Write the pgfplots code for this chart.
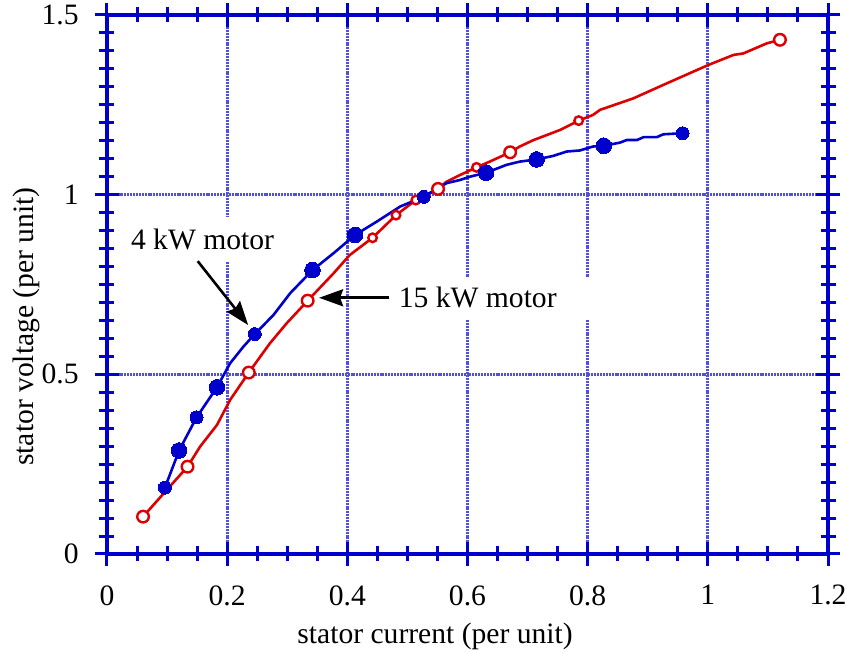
\documentclass[border=0pt]{standalone}
\usepackage{pgfplots}
\pgfplotsset{compat=1.18}
\usepackage{fontspec}
\setmainfont{Liberation Serif}
\usetikzlibrary{arrows.meta}
\definecolor{cblue}{RGB}{0,0,204}
\definecolor{cred}{RGB}{221,0,0}
\definecolor{cgrid}{RGB}{80,80,220}
\begin{document}
\fontsize{14.8}{17}\selectfont
\begin{tikzpicture}
\begin{axis}[
  at={(0,0)}, anchor=south west,
  scale only axis, width=360.5pt, height=269.5pt,
  xmin=0, xmax=1.2, ymin=0, ymax=1.5,
  xtick={0,0.2,...,1.2}, ytick={0,0.5,1,1.5},
  minor x tick num=3, minor y tick num=9,
  xtick pos=both, ytick pos=both,
  tick align=center,
  major tick length=12pt, minor tick length=7.5pt,
  axis line style={cblue, line width=1.6pt},
  every tick/.style={cblue, line width=1.5pt},
  every minor tick/.style={cblue, line width=1.5pt},
  xmajorgrids, ymajorgrids,
  every axis grid/.style={},
  every major grid/.style={cgrid, line width=1.5pt, dash pattern=on 1pt off 0.45pt},
  /pgf/number format/assume math mode=true,
  xticklabel style={inner sep=0pt, anchor=north, yshift=-9.5pt},
  yticklabel style={inner sep=0pt, anchor=east, xshift=-8pt},
  clip=false,
]
\fill[white] (axis cs:0.47,0.651) rectangle (axis cs:0.82,0.771);
\fill[white] (axis cs:0.03,0.813) rectangle (axis cs:0.28,0.938);

\addplot[cred, line width=1.3pt] coordinates {
(0.060,0.104) (0.134,0.243) (0.155,0.299) (0.183,0.359) (0.205,0.429)
(0.236,0.505) (0.271,0.586) (0.299,0.642) (0.334,0.705) (0.377,0.781)
(0.404,0.832) (0.442,0.880) (0.481,0.943) (0.514,0.985) (0.551,1.016)
(0.565,1.036) (0.588,1.055) (0.615,1.076) (0.637,1.092) (0.671,1.118)
(0.687,1.134) (0.710,1.152) (0.732,1.166) (0.754,1.180) (0.785,1.206)
(0.809,1.222) (0.8206,1.236) (0.876,1.268) (0.932,1.310) (1.001,1.361)
(1.043,1.389) (1.059,1.393) (1.098,1.421) (1.120,1.431)};

\addplot[cblue, line width=1.3pt] coordinates {
(0.0965,0.185) (0.120,0.288) (0.149,0.380) (0.183,0.464) (0.205,0.531)
(0.227,0.577) (0.246,0.612) (0.277,0.665) (0.305,0.726) (0.342,0.790)
(0.377,0.837) (0.413,0.888) (0.449,0.925) (0.488,0.967) (0.527,0.994)
(0.565,1.032) (0.588,1.041) (0.604,1.050) (0.631,1.061) (0.665,1.083)
(0.687,1.092) (0.715,1.098) (0.743,1.108) (0.765,1.120) (0.787,1.123)
(0.809,1.134) (0.827,1.136) (0.854,1.145) (0.865,1.152) (0.882,1.152)
(0.893,1.160) (0.915,1.160) (0.926,1.168) (0.958,1.171)};

% red open markers, small
\addplot[only marks, mark=*, mark size=2.15pt, mark options={draw=cred, fill=white, line width=1.2pt}] coordinates {
(0.442,0.880) (0.481,0.943) (0.514,0.985) (0.615,1.076) (0.785,1.206)};
% red open markers, large
\addplot[only marks, mark=*, mark size=2.9pt, mark options={draw=cred, fill=white, line width=1.2pt}] coordinates {
(0.060,0.104) (0.134,0.243) (0.236,0.505) (0.334,0.705) (0.551,1.016) (0.671,1.118) (1.120,1.431)};
% blue filled markers, small
\addplot[only marks, mark=*, mark size=3.25pt, mark options={draw=cblue, fill=cblue, line width=0pt}] coordinates {
(0.0965,0.185) (0.149,0.380) (0.246,0.612) (0.527,0.994) (0.958,1.171)};
% blue filled markers, large
\addplot[only marks, mark=*, mark size=3.9pt, mark options={draw=cblue, fill=cblue, line width=0pt}] coordinates {
(0.120,0.288) (0.183,0.464) (0.342,0.790) (0.413,0.888) (0.631,1.061) (0.715,1.098) (0.827,1.136)};

\draw[black, line width=1.3pt, -{Stealth[length=12pt,width=8.5pt,inset=1.5pt]}] (axis cs:0.151,0.815) -- (axis cs:0.235,0.637);
\draw[black, line width=1.3pt, -{Stealth[length=12pt,width=8.5pt,inset=1.5pt]}] (axis cs:0.470,0.713) -- (axis cs:0.353,0.713);
\node[inner sep=0pt] at (axis cs:0.159,0.874) {4 kW motor};
\node[inner sep=0pt] at (axis cs:0.617,0.713) {15 kW motor};

\node[anchor=base] at (axis cs:0.546,-0.2486) {stator current (per unit)};
\node[anchor=base, rotate=90] at (axis cs:-0.123,0.633) {stator voltage (per unit)};
\end{axis}
\pgfresetboundingbox
\path[use as bounding box] (-53.5pt,-49.5pt) rectangle (370pt,277pt);
\end{tikzpicture}
\end{document}
